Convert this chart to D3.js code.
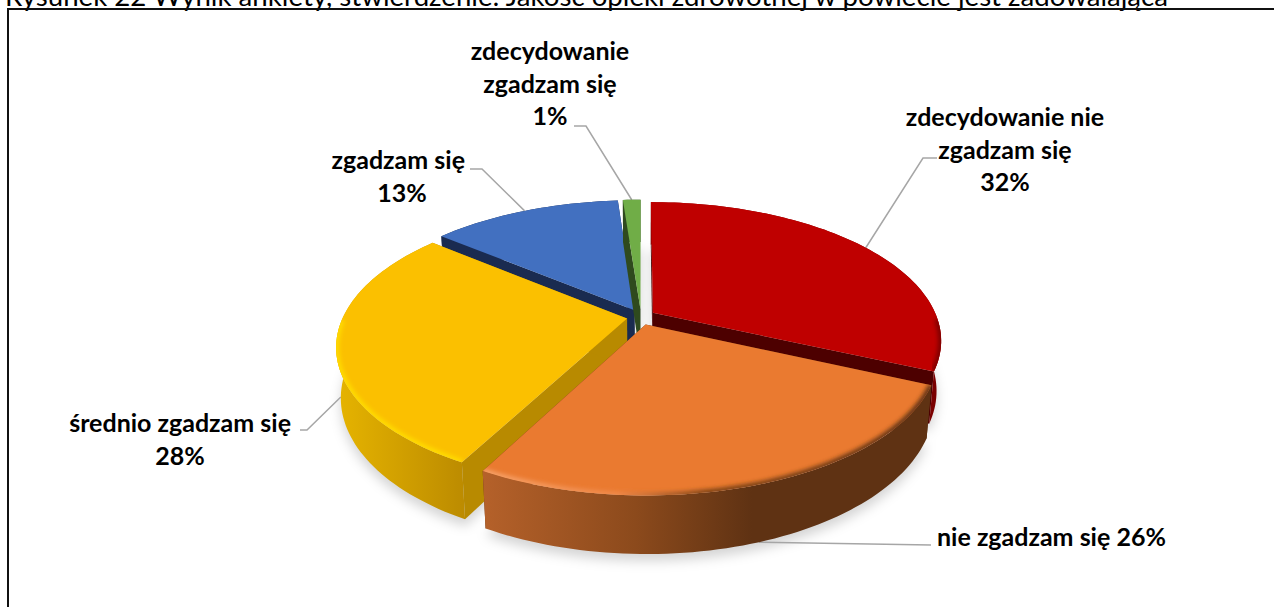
<!DOCTYPE html>
<html>
<head>
<meta charset="utf-8">
<script src="https://cdn.jsdelivr.net/npm/d3@7"></script>
<style>
    html, body { margin: 0; padding: 0; background: #fff; overflow: hidden; }
    text { font-family: Lato, "Noto Sans", sans-serif; fill: #000; }
</style>
</head>
<body>
<div id="chart"></div>
<script>
// Survey answers, clockwise from 12 o'clock. Slice sizes,
// the printed labels are rounded
const categories = ["zdecydowanie nie zgadzam się", "nie zgadzam się", "średnio zgadzam się", "zgadzam się", "zdecydowanie zgadzam się"];
const values = [31.7, 26.1, 28.1, 12.9, 1.2];
const labelLines = [
    ["zdecydowanie nie", "zgadzam się", "32%"],
    ["nie zgadzam się 26%"],
    ["średnio zgadzam się", "28%"],
    ["zgadzam się", "13%"],
    ["zdecydowanie", "zgadzam się", "1%"]
];
const titleText = "Rysunek 22 Wynik ankiety, stwierdzenie: Jakość opieki zdrowotnej w powiecie jest zadowalająca";

// Colours per slice: top face, radial cut wall, rim wall gradient, bevel gradient
const topColors = ["#bf0000", "#ea7a30", "#fbc000", "#4270c0", "#70ad47"];
const cutColors = ["#4d0000", "#5f3213", "#b88a00", "#1a2b50", "#2f4a1e"];
const rimStops = [
    [[0, "#8a0000"], [1, "#7a0000"]],
    [[0, "#b5612a"], [0.34, "#8c4a1c"], [0.6, "#5f3213"], [1, "#5f3213"]],
    [[0, "#e6b400"], [1, "#bd8c00"]],
    [[0, "#1a2b50"], [1, "#1a2b50"]],
    [[0, "#2f4a1e"], [1, "#2f4a1e"]]
];
const bevelStops = [
    [[0, "#7a0000"], [1, "#7a0000"]],
    [[0, "#f7a36a"], [0.3, "#f0894a"], [0.5, "#7d4318"], [1, "#5f3213"]],
    [[0, "#ffdc00"], [1, "#ffdc00"]],
    [[0, "#4270c0"], [1, "#4270c0"]],
    [[0, "#70ad47"], [1, "#70ad47"]]
];

// Label layout: [x, first baseline, anchor], leader: elbow points and depth of the end on the rim
const labelPos = [[1005, 126, "middle"], [937, 546, "start"], [291, 432, "end"], [465, 169, "end"], [550, 60, "middle"]];
const lineCenter = [null, null, 180, 402, null];
const leaderStart = [[937, 158], [931, 545], [300, 430], [470, 169], [574, 126]];
const leaderElbow = [[923, 158], null, [307, 430], [482, 169], [586, 126]];
const leaderDepth = [0, 1, 1, 0, 0];

const width = 1274, height = 607;
const rx = 284, ry = 134, wallH = 50;
const cx = 641, cy = 317;
const persp = 0.197, depthShrink = 0.015;
const explodeU = 0.05, explodeV = 0.058;
const lineStep = 32.6, fontSize = 25;

const svg = d3.select("#chart").append("svg")
    .attr("width", width)
    .attr("height", height);
const defs = svg.append("defs");

defs.append("filter").attr("id", "shadowBlur")
    .attr("x", "-20%").attr("y", "-20%").attr("width", "140%").attr("height", "140%")
    .append("feGaussianBlur").attr("stdDeviation", 6);
defs.append("filter").attr("id", "bevelBlur")
    .attr("x", "-20%").attr("y", "-20%").attr("width", "140%").attr("height", "140%")
    .append("feGaussianBlur").attr("stdDeviation", 2.2);

const arcs = d3.pie().value(d => d).sort(null)(values);

// Perspective projection of a point of the pie: back of the pie is smaller than the front
function project(u, v, z) {
    const s = 1 / (1 + persp * v + depthShrink * z);
    return [cx + rx * u * s, cy - ry * v * s + wallH * z * s];
}

// Points of one slice at depth z (0 = top face, 1 = bottom face)
function apex(arc, z) {
    const mid = (arc.startAngle + arc.endAngle) / 2;
    return project(explodeU * Math.sin(mid), explodeV * Math.cos(mid), z);
}
function rimPoint(arc, a, z) {
    const mid = (arc.startAngle + arc.endAngle) / 2;
    return project(explodeU * Math.sin(mid) + Math.sin(a), explodeV * Math.cos(mid) + Math.cos(a), z);
}
function rimPoints(arc, z) {
    const n = Math.max(4, Math.round((arc.endAngle - arc.startAngle) * 40));
    return d3.range(n + 1).map(i => rimPoint(arc, arc.startAngle + (arc.endAngle - arc.startAngle) * i / n, z));
}

const closed = d3.line().curve(d3.curveLinearClosed);
const open = d3.line();

// Horizontal gradients and clip paths for each slice
arcs.forEach((arc, i) => {
    const xs = rimPoints(arc, 0).map(p => p[0]);
    const x0 = d3.min(xs), x1 = d3.max(xs);
    [["rim", rimStops[i]], ["bevel", bevelStops[i]]].forEach(([name, stops]) => {
        const grad = defs.append("linearGradient")
            .attr("id", name + i)
            .attr("gradientUnits", "userSpaceOnUse")
            .attr("x1", x0).attr("x2", x1).attr("y1", 0).attr("y2", 0);
        stops.forEach(s => grad.append("stop").attr("offset", s[0]).attr("stop-color", s[1]));
    });
    defs.append("clipPath").attr("id", "clip" + i)
        .append("path").attr("d", closed([apex(arc, 0), ...rimPoints(arc, 0)]));
});

// Title, cut by the top of the picture, and the chart frame
svg.append("text")
    .attr("x", 5)
    .attr("y", 6)
    .attr("textLength", 1163)
    .attr("lengthAdjust", "spacingAndGlyphs")
    .style("font-size", "26px")
    .text(titleText);
svg.append("path")
    .attr("d", `M8,${height}V9H${width}`)
    .attr("fill", "none")
    .attr("stroke", "#111")
    .attr("stroke-width", 2);

// Soft shadow of the bottom faces
svg.append("g")
    .attr("filter", "url(#shadowBlur)")
    .attr("transform", "translate(0,7)")
    .selectAll("path")
    .data(arcs)
    .enter().append("path")
    .attr("d", d => closed([apex(d, 1), ...rimPoints(d, 1)]))
    .attr("fill", "#000")
    .attr("opacity", 0.17);

// Leader lines go under the pie
svg.append("g").selectAll("path")
    .data(arcs)
    .enter().append("path")
    .attr("d", (d, i) => {
        const end = rimPoint(d, (d.startAngle + d.endAngle) / 2, leaderDepth[i]);
        const pts = [leaderStart[i], leaderElbow[i], end].filter(p => p);
        return open(pts);
    })
    .attr("fill", "none")
    .attr("stroke", "#a6a6a6")
    .attr("stroke-width", 1.5);

// Paint the slices from the back to the front
const drawOrder = [3, 4, 0, 2, 1];
const sliceG = svg.append("g");
drawOrder.forEach(i => {
    const arc = arcs[i];
    const g = sliceG.append("g").attr("class", "slice");
    const a0 = apex(arc, 0), a1 = apex(arc, 1);
    const startTop = rimPoint(arc, arc.startAngle, 0), startBottom = rimPoint(arc, arc.startAngle, 1);
    const endTop = rimPoint(arc, arc.endAngle, 0), endBottom = rimPoint(arc, arc.endAngle, 1);

    g.append("path")
        .attr("d", closed([a0, startTop, startBottom, a1]))
        .attr("fill", cutColors[i]);
    g.append("path")
        .attr("d", closed([a0, endTop, endBottom, a1]))
        .attr("fill", cutColors[i]);
    g.append("path")
        .attr("d", closed([...rimPoints(arc, 0), ...rimPoints(arc, 1).reverse()]))
        .attr("fill", `url(#rim${i})`);
    g.append("path")
        .attr("d", closed([a0, ...rimPoints(arc, 0)]))
        .attr("fill", topColors[i]);
    // rounded edge: only the front part of the rim catches it
    const frontRim = rimPoints(arc, 0).filter(p => p[1] > cy);
    if (frontRim.length > 1) {
        g.append("g")
            .attr("clip-path", `url(#clip${i})`)
            .append("path")
            .attr("d", open(frontRim))
            .attr("fill", "none")
            .attr("stroke", `url(#bevel${i})`)
            .attr("stroke-width", 6)
            .attr("filter", "url(#bevelBlur)");
    }
});

// Data labels
const labelG = svg.append("g")
    .attr("font-weight", "bold")
    .style("font-size", fontSize + "px");
labelLines.forEach((lines, i) => {
    const [x, y, anchor] = labelPos[i];
    lines.forEach((line, j) => {
        const centered = lineCenter[i] !== null && j > 0;
        labelG.append("text")
            .attr("x", centered ? lineCenter[i] : x)
            .attr("y", y + j * lineStep)
            .attr("text-anchor", centered ? "middle" : anchor)
            .text(line);
    });
});
</script>
</body>
</html>
